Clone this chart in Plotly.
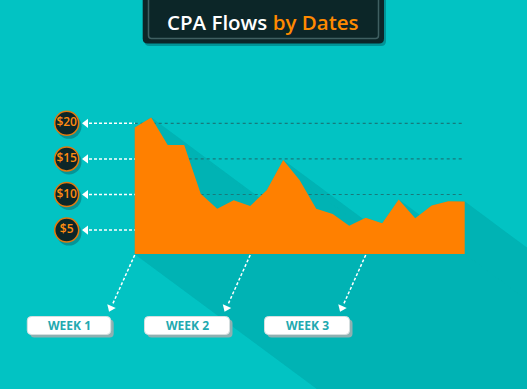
import plotly.graph_objects as go

# ---------------- data ----------------
DAYS = list(range(1, 22))
CPA = [19.4, 20.8, 16.95, 16.95, 10.1, 8.0, 9.2, 8.4, 10.6, 14.85, 12.0,
       8.0, 7.25, 5.6, 6.75, 5.95, 9.3, 6.65, 8.45, 9.05, 9.0]
PRICE_TICKS = [20, 15, 10, 5]
PRICE_LABELS = ["$20", "$15", "$10", "$5"]
WEEK_LABELS = ["WEEK 1", "WEEK 2", "WEEK 3"]
WEEK_START_DAYS = [1, 8, 15]
TITLE_MAIN = "CPA Flows"
TITLE_ACCENT = "by Dates"
AREA_FLOOR = 1.64

# ---------------- layout constants ----------------
W, H = 527, 389
X0_PX, DX_PX = 134.7, 16.5          # pixel of day 1, pixels per day
ZERO_PY, PX_PER_USD = 265.7, 7.12   # pixel of $0, pixels per dollar
XR = [DAYS[0] - X0_PX / DX_PX, DAYS[0] + (W - X0_PX) / DX_PX]
YR = [(ZERO_PY - H) / PX_PER_USD, ZERO_PY / PX_PER_USD]

BG = "#02c3c3"
SHADOW = "#00b3b4"
ORANGE = "#ff8000"
DARK = "#0c2628"


def xpx(p):
    return XR[0] + p / W * (XR[1] - XR[0])


def ypx(p):
    return YR[1] - p / H * (YR[1] - YR[0])


def dx_px(p):
    return p / DX_PX


def dy_px(p):
    return -p / PX_PER_USD


def X(p):
    return p / W


def Y(p):
    return 1 - p / H


def rrect(x0, y0, x1, y1, r):
    pts = [
        f"M{X(x0 + r)},{Y(y0)}", f"L{X(x1 - r)},{Y(y0)}",
        f"Q{X(x1)},{Y(y0)} {X(x1)},{Y(y0 + r)}", f"L{X(x1)},{Y(y1 - r)}",
        f"Q{X(x1)},{Y(y1)} {X(x1 - r)},{Y(y1)}", f"L{X(x0 + r)},{Y(y1)}",
        f"Q{X(x0)},{Y(y1)} {X(x0)},{Y(y1 - r)}", f"L{X(x0)},{Y(y0 + r)}",
        f"Q{X(x0)},{Y(y0)} {X(x0 + r)},{Y(y0)}", "Z",
    ]
    return " ".join(pts)


fig = go.Figure()

# ---------------- long shadow of the area ----------------
poly = [(DAYS[0], AREA_FLOOR)] + list(zip(DAYS, CPA)) + [(DAYS[-1], AREA_FLOOR)]
poly.append(poly[0])
sv = (dx_px(700), dy_px(700 * 0.74))
for a, b in zip(poly[:-1], poly[1:]):
    fig.add_trace(go.Scatter(
        x=[a[0], b[0], b[0] + sv[0], a[0] + sv[0], a[0]],
        y=[a[1], b[1], b[1] + sv[1], a[1] + sv[1], a[1]],
        mode="lines", fill="toself", fillcolor=SHADOW,
        line=dict(width=0, color=SHADOW), hoverinfo="skip", showlegend=False))

# ---------------- dark dashed gridlines ----------------
for v in PRICE_TICKS:
    fig.add_trace(go.Scatter(
        x=[DAYS[0], DAYS[-1] - dx_px(1)], y=[v, v], mode="lines",
        line=dict(color="#177a7c", width=1.2, dash="3px,3px"),
        hoverinfo="skip", showlegend=False))

# ---------------- area ----------------
fig.add_trace(go.Scatter(x=DAYS, y=[AREA_FLOOR] * len(DAYS), mode="lines",
                         line=dict(width=0, color=ORANGE), hoverinfo="skip",
                         showlegend=False))
fig.add_trace(go.Scatter(x=DAYS, y=CPA, mode="lines", fill="tonexty",
                         fillcolor=ORANGE, line=dict(width=0, color=ORANGE),
                         showlegend=False))

# ---------------- white dashed arrows to price coins ----------------
for v in PRICE_TICKS:
    fig.add_trace(go.Scatter(
        x=[xpx(89), DAYS[0]], y=[v, v], mode="lines",
        line=dict(color="white", width=1.5, dash="3px,2px"),
        hoverinfo="skip", showlegend=False))
fig.add_trace(go.Scatter(
    x=[xpx(86)] * len(PRICE_TICKS), y=PRICE_TICKS, mode="markers",
    marker=dict(symbol="triangle-left", size=8, color="white"),
    hoverinfo="skip", showlegend=False))

# ---------------- coins ----------------
fig.add_trace(go.Scatter(
    x=[xpx(69)] * len(PRICE_TICKS), y=[v + dy_px(3) for v in PRICE_TICKS],
    mode="markers", marker=dict(size=25, color="rgba(10,90,95,0.45)"),
    hoverinfo="skip", showlegend=False))
fig.add_trace(go.Scatter(
    x=[xpx(66.7)] * len(PRICE_TICKS), y=PRICE_TICKS, mode="markers+text",
    text=PRICE_LABELS, textposition="middle center",
    textfont=dict(color="#ff8c10", size=12, family="Open Sans", weight=600),
    marker=dict(size=24, color=DARK, line=dict(color="#e07a10", width=1.5)),
    hoverinfo="skip", showlegend=False))

# ---------------- week arrows ----------------
for d in WEEK_START_DAYS:
    x_end = d - dx_px(22)
    fig.add_trace(go.Scatter(
        x=[d, x_end], y=[AREA_FLOOR + dy_px(1), ypx(304)], mode="lines",
        line=dict(color="white", width=1.5, dash="3px,2px"),
        hoverinfo="skip", showlegend=False))
    fig.add_trace(go.Scatter(
        x=[d - dx_px(24)], y=[ypx(308)], mode="markers",
        marker=dict(symbol="triangle-down", size=8, color="white", angle=24),
        hoverinfo="skip", showlegend=False))

shapes = []
annotations = []

# week boxes
week_boxes = [(27.3, 110.7), (144.5, 229.5), (264.5, 349.5)]
for (bx0, bx1), lab in zip(week_boxes, WEEK_LABELS):
    shapes.append(dict(type="path", xref="paper", yref="paper",
                       path=rrect(bx0 + 3, 319.5, bx1 + 3, 337.5, 4),
                       fillcolor="#8fb0b1", line=dict(width=0)))
    shapes.append(dict(type="path", xref="paper", yref="paper",
                       path=rrect(bx0, 316.5, bx1, 334.5, 4),
                       fillcolor="white", line=dict(color="#d5dfe0", width=1)))
    annotations.append(dict(x=X((bx0 + bx1) / 2), y=Y(325.8), xref="paper",
                            yref="paper", text=f"<b>{lab}</b>", showarrow=False,
                            xanchor="center", yanchor="middle",
                            font=dict(color="#22a9b0", size=12, family="Open Sans")))

# title box
shapes.append(dict(type="path", xref="paper", yref="paper",
                   path=rrect(144.5, -10, 386, 46, 5),
                   fillcolor="rgba(0,100,105,0.5)", line=dict(width=0)))
shapes.append(dict(type="path", xref="paper", yref="paper",
                   path=rrect(142.7, -10, 384, 43.5, 5),
                   fillcolor=DARK, line=dict(width=0)))
shapes.append(dict(type="path", xref="paper", yref="paper",
                   path=rrect(148.5, -10, 378.5, 38.5, 3),
                   fillcolor=DARK, line=dict(color="#3f5f61", width=1.5)))
title_text = f"{TITLE_MAIN} <span style='color:#ff8a00'>{TITLE_ACCENT}</span>"
annotations.append(dict(x=X(263.3), y=Y(21.8), xref="paper", yref="paper",
                        text=title_text, showarrow=False,
                        xanchor="center", yanchor="middle",
                        font=dict(color="white", size=20.5, family="Open Sans", weight=600)))

fig.update_layout(
    width=W, height=H, autosize=False,
    margin=dict(l=0, r=0, t=0, b=0, pad=0),
    paper_bgcolor=BG, plot_bgcolor=BG,
    xaxis=dict(range=XR, visible=False, fixedrange=True),
    yaxis=dict(range=YR, visible=False, fixedrange=True),
    shapes=shapes, annotations=annotations, showlegend=False,
)

fig.write_html("out.html", config={"displayModeBar": False},
               post_script="document.body.style.margin='0';document.body.style.background='" + BG + "';")
